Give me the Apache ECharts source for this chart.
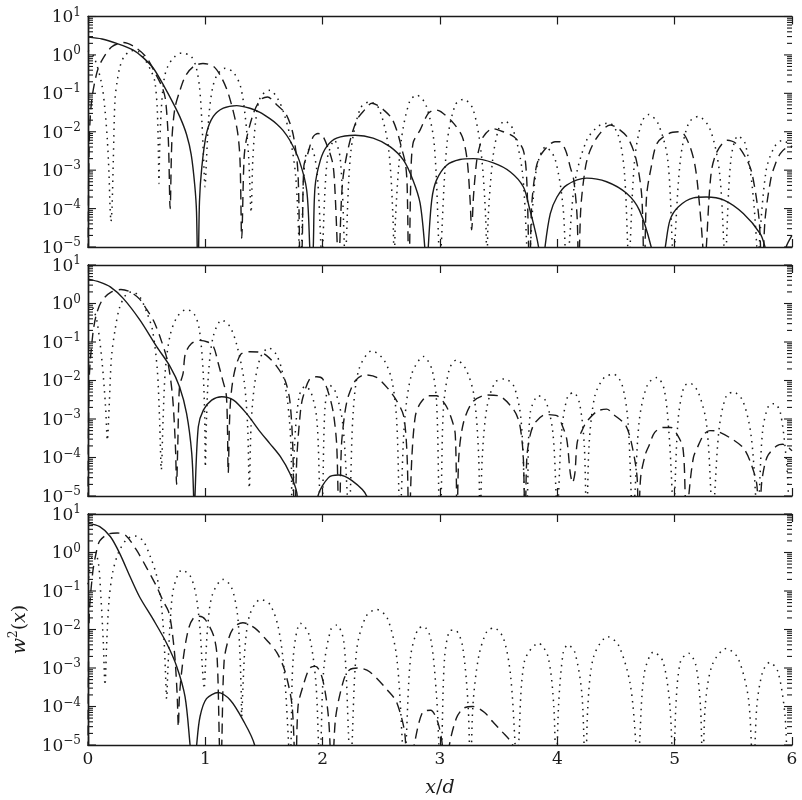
<!DOCTYPE html>
<html>
<head>
<meta charset="utf-8">
<script src="https://cdn.jsdelivr.net/npm/echarts@6/dist/echarts.min.js"></script>
<style>
  html, body { margin: 0; padding: 0; background: #fff; }
  #chart { width: 802px; height: 800px; }
</style>
</head>
<body>
<div id="chart"></div>
<script>
// Axis ranges and tick positions
const xMin = 0, xMax = 6;
const xTickStep = 1;
const yMin = 1e-5, yMax = 10;

// ---- Panel 1 ----
const p1Solid = [
  [0, 2.9], [0.12, 2.6], [0.244, 2.0], [0.386, 1.34], [0.47, 0.85], [0.557, 0.45], [0.65, 0.15], [0.72, 0.06],
  [0.784, 0.024], [0.84, 0.0085], [0.88, 0.0025], [0.91, 4e-4], [0.925, 8e-5], [0.937, 1e-6],
  [0.95, 1.5e-4], [0.97, 0.0012], [1.01, 0.0091], [1.068, 0.025], [1.153, 0.041], [1.267, 0.048],
  [1.38, 0.041], [1.466, 0.032], [1.55, 0.022], [1.608, 0.016], [1.66, 0.011], [1.72, 0.006], [1.80, 0.0018],
  [1.864, 3e-4], [1.89, 1e-5], [1.905, 1e-6],
  [1.92, 1e-5], [1.935, 3.7e-4], [1.98, 0.0018], [2.034, 0.0041], [2.119, 0.0068], [2.276, 0.0081],
  [2.43, 0.0068], [2.574, 0.0041], [2.69, 0.0018], [2.77, 5.5e-4], [2.83, 1.4e-4], [2.87, 1e-5], [2.885, 1e-6],
  [2.90, 1e-5], [2.93, 1.7e-4], [2.97, 5.5e-4], [3.057, 0.00135], [3.17, 0.0019], [3.284, 0.002],
  [3.455, 0.00155], [3.6, 9e-4], [3.71, 3.7e-4], [3.76, 1.1e-4], [3.84, 1e-5], [3.865, 1e-6],
  [3.895, 1e-5], [3.94, 7.4e-5], [3.997, 2.0e-4], [4.08, 4.1e-4], [4.25, 6.2e-4], [4.42, 5e-4],
  [4.59, 2.5e-4], [4.70, 9e-5], [4.80, 1e-5], [4.86, 1e-6],
  [4.92, 1e-5], [4.96, 5e-5], [5.03, 1.1e-4], [5.16, 1.9e-4], [5.27, 2.0e-4], [5.42, 1.65e-4],
  [5.585, 7.4e-5], [5.73, 2.2e-5], [5.77, 1e-5], [5.86, 1e-6], [5.95, 1e-5], [6.0, 2e-5]
];
const p1Dashed = [
  [0, 1e-6], [0.01, 0.005], [0.03, 0.06], [0.074, 0.33], [0.116, 0.7], [0.2, 1.6], [0.3, 2.1],
  [0.4, 1.6], [0.5, 0.85], [0.57, 0.35], [0.63, 0.15], [0.66, 0.07], [0.685, 0.006], [0.70, 1e-4],
  [0.715, 0.006], [0.74, 0.04], [0.78, 0.11], [0.83, 0.28], [0.9, 0.5], [0.98, 0.6], [1.07, 0.5],
  [1.14, 0.25], [1.2, 0.09], [1.27, 0.012], [1.295, 0.002], [1.31, 1.7e-5], [1.33, 0.002],
  [1.35, 0.0063], [1.41, 0.03], [1.47, 0.068], [1.53, 0.08], [1.61, 0.05], [1.69, 0.028],
  [1.75, 0.008], [1.79, 8e-4], [1.81, 1e-6],
  [1.825, 1e-5], [1.84, 0.0013], [1.87, 0.0025], [1.92, 0.0075], [1.96, 0.009], [2.0, 0.008],
  [2.08, 0.0018], [2.10, 5.5e-4], [2.125, 1e-5], [2.135, 1e-6],
  [2.145, 1e-5], [2.17, 5e-4], [2.22, 0.004], [2.29, 0.02], [2.35, 0.035], [2.42, 0.055], [2.46, 0.05],
  [2.52, 0.037], [2.59, 0.022], [2.64, 0.009], [2.67, 0.004], [2.705, 0.0015], [2.72, 4e-4], [2.735, 1e-6],
  [2.75, 4e-4], [2.77, 0.005], [2.83, 0.011], [2.90, 0.03], [2.96, 0.037], [3.01, 0.033], [3.12, 0.016],
  [3.19, 0.0074], [3.23, 0.002], [3.255, 2e-4], [3.27, 2.8e-5], [3.285, 2e-4], [3.31, 0.0015],
  [3.33, 0.0033], [3.37, 0.0075], [3.45, 0.012], [3.5, 0.011], [3.63, 0.0074], [3.71, 0.0033],
  [3.74, 5e-4], [3.765, 1e-6],
  [3.78, 1e-4], [3.82, 0.0012], [3.87, 0.0028], [3.98, 0.0055], [4.02, 0.0055], [4.07, 0.0033],
  [4.11, 0.0012], [4.14, 5.5e-4], [4.17, 5e-5], [4.18, 1e-6],
  [4.2, 1e-4], [4.24, 0.0012], [4.28, 0.0033], [4.35, 0.008], [4.45, 0.015], [4.52, 0.012], [4.6, 0.007],
  [4.67, 0.002], [4.72, 2e-4], [4.74, 1e-6],
  [4.76, 2e-4], [4.8, 0.0012], [4.85, 0.005], [4.95, 0.009], [5.05, 0.01], [5.12, 0.005], [5.17, 0.0015],
  [5.2, 3e-4], [5.24, 1e-5], [5.25, 1e-6],
  [5.27, 1e-5], [5.31, 8e-4], [5.36, 0.003], [5.45, 0.006], [5.52, 0.005], [5.61, 0.002], [5.66, 8e-4],
  [5.72, 5e-5], [5.745, 1e-6],
  [5.77, 5e-5], [5.82, 6e-4], [5.86, 0.0015], [5.9, 0.0027], [5.95, 0.0038], [6.0, 0.004]
];
const p1Dotted = [
  [0, 1.3], [0.05, 0.9], [0.116, 0.18], [0.145, 0.036], [0.165, 0.006], [0.179, 8e-4], [0.188, 1.1e-4],
  [0.196, 4.6e-5], [0.205, 1.1e-4], [0.216, 0.002], [0.23, 0.068], [0.25, 0.22], [0.273, 0.5],
  [0.307, 0.9], [0.36, 1.25], [0.41, 1.3], [0.47, 0.9], [0.54, 0.37], [0.57, 0.2], [0.59, 0.04],
  [0.6, 0.003], [0.605, 4.5e-4], [0.61, 0.003], [0.625, 0.04], [0.65, 0.25], [0.68, 0.5], [0.73, 0.85],
  [0.8, 1.13], [0.88, 0.9], [0.92, 0.5], [0.95, 0.15], [0.97, 0.02], [0.985, 0.002], [0.997, 3.7e-4],
  [1.01, 0.002], [1.03, 0.025], [1.06, 0.13], [1.1, 0.3], [1.17, 0.45], [1.24, 0.35], [1.3, 0.15],
  [1.34, 0.025], [1.37, 0.002], [1.39, 8e-5], [1.405, 0.002], [1.43, 0.02], [1.47, 0.08], [1.55, 0.12],
  [1.62, 0.07], [1.67, 0.03], [1.72, 0.008], [1.77, 7e-4], [1.8, 1e-5], [1.81, 1e-6],
  [1.82, 1e-5], [1.85, 0.002], [1.9, 0.004], [1.95, 0.001], [1.985, 1e-5], [1.99, 1e-6],
  [2.0, 1e-5], [2.04, 0.002], [2.1, 0.006], [2.15, 0.002], [2.185, 1e-5], [2.19, 1e-6],
  [2.2, 1e-5], [2.24, 0.003], [2.32, 0.04], [2.4, 0.06], [2.48, 0.04], [2.56, 0.004], [2.6, 5e-5], [2.61, 1e-6],
  [2.62, 5e-5], [2.67, 0.006], [2.74, 0.06], [2.8, 0.09], [2.88, 0.05], [2.95, 0.005], [2.99, 1e-5], [3.0, 1e-6],
  [3.01, 1e-5], [3.06, 0.005], [3.13, 0.05], [3.2, 0.07], [3.28, 0.04], [3.35, 0.003], [3.39, 5e-5], [3.4, 1e-6],
  [3.41, 5e-5], [3.45, 0.002], [3.5, 0.012], [3.55, 0.019], [3.62, 0.012], [3.7, 0.001], [3.74, 1e-5], [3.75, 1e-6],
  [3.77, 1e-5], [3.82, 0.001], [3.9, 0.004], [3.98, 0.002], [4.05, 1e-4], [4.08, 1e-6],
  [4.1, 1e-5], [4.15, 5e-4], [4.25, 0.006], [4.35, 0.014], [4.44, 0.017], [4.52, 0.008], [4.57, 0.001],
  [4.6, 1e-5], [4.61, 1e-6],
  [4.62, 1e-5], [4.66, 0.002], [4.72, 0.018], [4.78, 0.028], [4.86, 0.016], [4.94, 0.002], [4.98, 1e-5], [4.99, 1e-6],
  [5.0, 1e-5], [5.05, 0.002], [5.12, 0.017], [5.2, 0.025], [5.3, 0.012], [5.38, 0.001], [5.42, 1e-5], [5.43, 1e-6],
  [5.44, 1e-5], [5.48, 0.002], [5.54, 0.0078], [5.6, 0.005], [5.66, 4e-4], [5.7, 1e-5], [5.71, 1e-6],
  [5.72, 1e-5], [5.78, 0.001], [5.85, 0.004], [5.92, 0.006], [6.0, 0.004]
];

// ---- Panel 2 ----
const p2Solid = [
  [0, 4.3], [0.1, 3.6], [0.19, 2.7], [0.30, 1.36], [0.443, 0.37], [0.585, 0.076], [0.70, 0.023],
  [0.78, 0.0069], [0.84, 0.0014], [0.884, 1.3e-4], [0.9, 1e-5], [0.905, 1e-6],
  [0.912, 1e-5], [0.94, 6.3e-4], [0.983, 0.0017], [1.054, 0.0031], [1.14, 0.0038], [1.24, 0.0031],
  [1.35, 0.0014], [1.466, 4.7e-4], [1.55, 2.3e-4], [1.64, 1.05e-4], [1.72, 3.9e-5], [1.78, 1.2e-5], [1.80, 1e-6],
  [1.94, 1e-6], [1.96, 1e-5], [2.05, 3e-5], [2.134, 3.5e-5], [2.25, 2.5e-5], [2.375, 1e-5], [2.42, 1e-6]
];
const p2Dashed = [
  [0, 1e-6], [0.01, 0.01], [0.04, 0.15], [0.07, 0.5], [0.12, 1.2], [0.2, 2.0], [0.28, 2.3], [0.36, 2.0],
  [0.44, 1.3], [0.5, 0.7], [0.56, 0.35], [0.62, 0.12], [0.68, 0.03], [0.72, 0.004], [0.745, 2e-4],
  [0.755, 2e-5], [0.765, 2e-4], [0.78, 0.007], [0.81, 0.015], [0.83, 0.05], [0.88, 0.09], [0.95, 0.11],
  [1.02, 0.1], [1.07, 0.075], [1.11, 0.028], [1.14, 0.0126], [1.18, 0.0038], [1.195, 4e-5], [1.21, 0.0017],
  [1.24, 0.0126], [1.3, 0.047], [1.38, 0.056], [1.45, 0.055], [1.52, 0.045], [1.61, 0.023], [1.68, 0.01],
  [1.72, 0.003], [1.745, 2e-4], [1.76, 1e-6],
  [1.78, 1e-4], [1.81, 0.0015], [1.83, 0.0035], [1.89, 0.011], [1.95, 0.0125], [2.0, 0.011], [2.05, 0.0047],
  [2.09, 0.0015], [2.12, 2e-4], [2.14, 1e-6],
  [2.16, 2e-4], [2.19, 0.0015], [2.22, 0.004], [2.28, 0.01], [2.36, 0.014], [2.46, 0.012], [2.56, 0.006],
  [2.63, 0.003], [2.69, 0.0012], [2.72, 1e-4], [2.735, 1e-6],
  [2.76, 1e-4], [2.79, 0.0012], [2.83, 0.0025], [2.9, 0.004], [2.97, 0.004], [3.04, 0.0025], [3.09, 0.0012],
  [3.13, 4e-4], [3.145, 1e-6],
  [3.16, 1e-4], [3.2, 8e-4], [3.28, 0.0028], [3.4, 0.0042], [3.5, 0.004], [3.63, 0.0017], [3.68, 7e-4],
  [3.71, 1e-4], [3.725, 1e-6],
  [3.74, 1e-4], [3.77, 4e-4], [3.81, 8e-4], [3.9, 0.0013], [4.0, 0.0012], [4.04, 7e-4], [4.08, 3e-4],
  [4.11, 4e-5], [4.13, 2.2e-5], [4.15, 4e-5], [4.17, 2.5e-4], [4.21, 5e-4], [4.25, 8.5e-4], [4.34, 0.0016],
  [4.42, 0.0018], [4.48, 0.0013], [4.58, 7e-4], [4.63, 2.5e-4], [4.68, 3e-5], [4.69, 1e-6],
  [4.71, 3e-5], [4.75, 1.2e-4], [4.78, 2e-4], [4.83, 4.5e-4], [4.9, 6e-4], [4.97, 6e-4], [5.02, 4e-4],
  [5.07, 1.8e-4], [5.09, 1e-5], [5.1, 1e-6],
  [5.12, 1e-5], [5.16, 1e-4], [5.2, 2e-4], [5.25, 4e-4], [5.3, 5e-4], [5.36, 4.8e-4], [5.49, 3e-4],
  [5.59, 1.7e-4], [5.65, 7e-5], [5.7, 2e-5], [5.72, 1e-6],
  [5.74, 2e-5], [5.77, 7e-5], [5.8, 1.2e-4], [5.87, 2e-4], [5.92, 2.2e-4], [5.97, 1.8e-4], [6.0, 1.5e-4]
];
const p2Dotted = [
  [0, 1.0], [0.04, 0.8], [0.08, 0.3], [0.12, 0.03], [0.15, 0.002], [0.165, 2.8e-4], [0.18, 0.002],
  [0.2, 0.04], [0.23, 0.2], [0.27, 0.8], [0.33, 1.8], [0.38, 2.0], [0.44, 1.5], [0.5, 0.6], [0.55, 0.2],
  [0.59, 0.02], [0.61, 0.001], [0.625, 4.8e-5], [0.64, 0.001], [0.66, 0.02], [0.7, 0.15], [0.76, 0.45],
  [0.84, 0.7], [0.91, 0.5], [0.95, 0.2], [0.98, 0.02], [0.995, 0.001], [1.0, 5.7e-5], [1.01, 0.001],
  [1.03, 0.02], [1.07, 0.15], [1.14, 0.37], [1.21, 0.25], [1.27, 0.08], [1.33, 0.01], [1.36, 7e-4],
  [1.375, 1.6e-5], [1.39, 7e-4], [1.42, 0.008], [1.47, 0.04], [1.54, 0.07], [1.6, 0.05], [1.65, 0.02],
  [1.7, 0.003], [1.73, 2e-4], [1.74, 1e-6],
  [1.76, 2e-4], [1.8, 0.004], [1.85, 0.007], [1.9, 0.005], [1.95, 0.001], [1.975, 1e-5], [1.985, 1e-6],
  [2.0, 1e-5], [2.02, 0.002], [2.06, 0.0076], [2.11, 0.005], [2.17, 8e-4], [2.21, 1e-5], [2.22, 1e-6],
  [2.235, 1e-5], [2.26, 0.0015], [2.31, 0.02], [2.42, 0.059], [2.52, 0.035], [2.59, 0.01], [2.63, 0.001],
  [2.65, 1e-5], [2.655, 1e-6],
  [2.67, 1e-5], [2.7, 0.001], [2.76, 0.015], [2.86, 0.042], [2.93, 0.02], [2.97, 0.003], [2.99, 1e-5], [2.995, 1e-6],
  [3.01, 1e-5], [3.03, 0.002], [3.08, 0.02], [3.14, 0.034], [3.22, 0.02], [3.29, 0.004], [3.33, 1e-4], [3.34, 1e-6],
  [3.36, 1e-4], [3.4, 0.002], [3.47, 0.009], [3.55, 0.011], [3.63, 0.007], [3.69, 0.001], [3.72, 1e-5], [3.73, 1e-6],
  [3.745, 1e-5], [3.77, 0.0015], [3.84, 0.004], [3.9, 0.003], [3.96, 5e-4], [3.99, 1e-5], [4.0, 1e-6],
  [4.01, 1e-5], [4.04, 6e-4], [4.09, 0.004], [4.14, 0.0048], [4.19, 0.0025], [4.23, 2e-4], [4.25, 1e-6],
  [4.27, 2e-4], [4.32, 0.004], [4.4, 0.012], [4.48, 0.0145], [4.55, 0.008], [4.6, 0.001], [4.63, 1e-5], [4.64, 1e-6],
  [4.66, 1e-5], [4.7, 0.001], [4.77, 0.008], [4.85, 0.012], [4.91, 0.006], [4.95, 5e-4], [4.98, 1e-5], [4.99, 1e-6],
  [5.0, 1e-5], [5.03, 0.001], [5.08, 0.007], [5.13, 0.0085], [5.2, 0.005], [5.27, 8e-4], [5.31, 1e-5], [5.32, 1e-6],
  [5.34, 1e-5], [5.38, 6e-4], [5.44, 0.004], [5.5, 0.005], [5.58, 0.003], [5.65, 4e-4], [5.69, 1e-5], [5.7, 1e-6],
  [5.72, 1e-5], [5.75, 5e-4], [5.8, 0.0022], [5.85, 0.0025], [5.9, 0.0015], [5.95, 1e-4], [5.97, 1e-5],
  [5.98, 1e-6], [6.0, 1e-5]
];

// ---- Panel 3 ----
const p3Solid = [
  [0, 5.7], [0.1, 4.7], [0.19, 2.6], [0.27, 0.95], [0.36, 0.23], [0.44, 0.07], [0.557, 0.018],
  [0.67, 0.0044], [0.756, 0.0011], [0.827, 1.8e-4], [0.87, 1e-5], [0.9, 1e-6],
  [0.926, 1e-5], [0.955, 5.5e-5], [1.01, 1.6e-4], [1.11, 2.3e-4], [1.21, 1.5e-4], [1.32, 4.5e-5],
  [1.42, 1e-5], [1.45, 1e-6]
];
const p3Dashed = [
  [0, 1e-6], [0.01, 0.02], [0.04, 0.3], [0.07, 1.0], [0.1, 2.0], [0.17, 3.0], [0.25, 3.2], [0.32, 2.8],
  [0.41, 1.2], [0.5, 0.4], [0.585, 0.13], [0.64, 0.055], [0.685, 0.03], [0.71, 0.013], [0.74, 0.002],
  [0.76, 2e-4], [0.77, 3e-5], [0.78, 2e-4], [0.81, 0.0016], [0.855, 0.01], [0.9, 0.02], [0.95, 0.022],
  [1.0, 0.018], [1.07, 0.007], [1.1, 0.002], [1.12, 1e-5], [1.13, 1e-6],
  [1.14, 1e-5], [1.16, 0.0015], [1.2, 0.006], [1.25, 0.012], [1.32, 0.015], [1.42, 0.011], [1.52, 0.0054],
  [1.61, 0.0025], [1.68, 8e-4], [1.74, 1e-4], [1.77, 1e-6],
  [1.79, 1e-4], [1.84, 4e-4], [1.89, 0.001], [1.94, 0.0011], [2.0, 5e-4], [2.05, 5e-5], [2.08, 1e-6],
  [2.11, 5e-5], [2.18, 5e-4], [2.23, 9e-4], [2.3, 0.001], [2.4, 8e-4], [2.56, 2.5e-4], [2.63, 1.3e-4],
  [2.7, 2e-5], [2.72, 1e-6],
  [2.78, 1e-5], [2.85, 7e-5], [2.92, 8e-5], [2.98, 4e-5], [3.02, 1e-5], [3.04, 1e-6],
  [3.08, 1e-5], [3.14, 5e-5], [3.2, 9e-5], [3.28, 1e-4], [3.38, 7e-5], [3.45, 4e-5], [3.53, 2.2e-5],
  [3.62, 1e-5], [3.7, 1e-6]
];
const p3Dotted = [
  [0, 0.15], [0.03, 0.7], [0.06, 1.0], [0.09, 0.5], [0.11, 0.07], [0.13, 0.005], [0.145, 3.6e-4],
  [0.16, 0.005], [0.18, 0.06], [0.21, 0.3], [0.26, 1.0], [0.33, 2.2], [0.4, 2.7], [0.47, 2.0], [0.53, 0.8],
  [0.585, 0.25], [0.62, 0.06], [0.645, 0.008], [0.66, 8e-4], [0.67, 1.6e-4], [0.68, 8e-4], [0.7, 0.015],
  [0.73, 0.12], [0.8, 0.35], [0.87, 0.25], [0.92, 0.08], [0.955, 0.01], [0.975, 0.001], [0.99, 2.9e-4],
  [1.0, 0.001], [1.02, 0.012], [1.06, 0.08], [1.15, 0.2], [1.22, 0.13], [1.27, 0.03], [1.29, 0.005],
  [1.305, 3e-4], [1.31, 5.5e-5], [1.32, 3e-4], [1.34, 0.004], [1.38, 0.025], [1.47, 0.06], [1.55, 0.045],
  [1.62, 0.012], [1.67, 0.001], [1.71, 1e-5], [1.72, 1e-6],
  [1.73, 1e-5], [1.75, 0.002], [1.81, 0.0145], [1.88, 0.008], [1.94, 5e-4], [1.965, 1e-5], [1.975, 1e-6],
  [1.985, 1e-5], [2.01, 0.001], [2.07, 0.01], [2.12, 0.013], [2.18, 0.005], [2.22, 2e-5], [2.235, 1e-6],
  [2.25, 1e-5], [2.29, 0.003], [2.37, 0.022], [2.46, 0.033], [2.55, 0.02], [2.63, 0.002], [2.68, 1e-5], [2.69, 1e-6],
  [2.71, 1e-5], [2.75, 0.002], [2.81, 0.01], [2.86, 0.012], [2.92, 0.006], [2.97, 2e-4], [2.99, 1e-5], [3.0, 1e-6],
  [3.015, 1e-5], [3.04, 0.002], [3.09, 0.0095], [3.13, 0.0095], [3.19, 0.004], [3.24, 1e-4], [3.26, 1e-6],
  [3.28, 1e-4], [3.33, 0.002], [3.4, 0.009], [3.46, 0.011], [3.54, 0.006], [3.6, 7e-4], [3.64, 1e-5], [3.65, 1e-6],
  [3.67, 1e-5], [3.72, 0.0015], [3.84, 0.0044], [3.92, 0.002], [3.97, 1e-4], [3.99, 1e-6],
  [4.01, 1e-4], [4.05, 0.0025], [4.09, 0.004], [4.15, 0.0025], [4.21, 2e-4], [4.24, 1e-6],
  [4.26, 1e-4], [4.31, 0.002], [4.43, 0.0065], [4.52, 0.004], [4.62, 4e-4], [4.67, 1e-5], [4.68, 1e-6],
  [4.7, 1e-5], [4.74, 7e-4], [4.82, 0.0026], [4.9, 0.0015], [4.96, 1e-4], [4.99, 1e-6],
  [5.01, 1e-4], [5.05, 0.0015], [5.12, 0.0024], [5.18, 0.0012], [5.22, 1e-4], [5.24, 1e-6],
  [5.26, 1e-4], [5.32, 0.0012], [5.44, 0.0032], [5.54, 0.0018], [5.63, 1.5e-4], [5.67, 1e-6],
  [5.7, 1e-4], [5.75, 8e-4], [5.81, 0.0014], [5.88, 8e-4], [5.94, 6e-5], [5.97, 1e-6], [6.0, 1e-5]
];

const panels = [
  { solid: p1Solid, dashed: p1Dashed, dotted: p1Dotted },
  { solid: p2Solid, dashed: p2Dashed, dotted: p2Dotted },
  { solid: p3Solid, dashed: p3Dashed, dotted: p3Dotted }
];

// Layout of the three stacked plot frames (pixels)
const frameLeft = 88, frameWidth = 704;
const frameTops = [16.5, 265, 514];
const frameHeights = [230.5, 231, 231];

const ink = '#1a1a1a';
const font = 'DejaVu Serif';

// log ticks: decades get long marks, 2..9 x 10^k get short ones
const majorTickValues = [];
const minorTickValues = [];
for (let k = -5; k <= 1; k++) {
  majorTickValues.push([0, Math.pow(10, k)]);
  if (k < 1) for (let m = 2; m <= 9; m++) minorTickValues.push([0, m * Math.pow(10, k)]);
}

function powerLabel(v) {
  const e = Math.round(Math.log10(v));
  return '{b|10}{s|' + (e < 0 ? '\u2212' + (-e) : e) + '}';
}
const labelRich = {
  b: { fontFamily: font, fontSize: 17, color: ink, lineHeight: 20, padding: [4, 0, 0, 0], verticalAlign: 'bottom' },
  s: { fontFamily: font, fontSize: 12, color: ink, lineHeight: 13, verticalAlign: 'top' }
};

function tickSeries(i, values, len) {
  return {
    type: 'custom', xAxisIndex: 2 * i, yAxisIndex: 2 * i, silent: true, animation: false, clip: false,
    data: values, z: 5,
    renderItem: (params, api) => {
      const v = api.value(1);
      const l = api.coord([xMin, v]);
      const r = api.coord([xMax, v]);
      return {
        type: 'group', children: [
          { type: 'line', shape: { x1: l[0], y1: l[1], x2: l[0] + len, y2: l[1] }, style: { stroke: ink, lineWidth: 1.1 } },
          { type: 'line', shape: { x1: r[0] - len, y1: r[1], x2: r[0], y2: r[1] }, style: { stroke: ink, lineWidth: 1.1 } }
        ]
      };
    }
  };
}

const grid = [], xAxis = [], yAxis = [], series = [];
panels.forEach((p, i) => {
  grid.push({ left: frameLeft, width: frameWidth, top: frameTops[i], height: frameHeights[i] });
  const last = i === panels.length - 1;
  const axisLine = { show: true, lineStyle: { color: ink, width: 1.4 } };
  const xTick = { show: true, inside: true, length: 8, lineStyle: { color: ink, width: 1.2 } };
  // bottom x axis
  xAxis.push({
    type: 'value', gridIndex: i, min: xMin, max: xMax, interval: xTickStep, position: 'bottom',
    axisLine, splitLine: { show: false }, axisTick: xTick,
    axisLabel: { show: last, color: ink, fontFamily: font, fontSize: 17, margin: 6 },
    name: last ? '{i|x}{n|/}{i|d}' : '', nameLocation: 'middle', nameGap: 34,
    nameTextStyle: { color: ink, fontFamily: font, fontSize: 19,
      rich: { i: { fontFamily: font, fontStyle: 'italic', fontSize: 19, color: ink },
              n: { fontFamily: font, fontSize: 19, color: ink } } }
  });
  // top x axis (ticks only)
  xAxis.push({
    type: 'value', gridIndex: i, min: xMin, max: xMax, interval: xTickStep, position: 'top',
    axisLine, splitLine: { show: false }, axisTick: xTick, axisLabel: { show: false }
  });
  // left y axis
  yAxis.push({
    type: 'log', logBase: 10, gridIndex: i, min: yMin, max: yMax, position: 'left',
    axisLine, splitLine: { show: false }, axisTick: { show: false },
    axisLabel: { margin: 7, formatter: powerLabel, rich: labelRich },
    name: last ? '{i|w}{s|2}{n|(}{i|x}{n|)}' : '', nameLocation: 'middle', nameGap: 58, nameRotate: 90,
    nameTextStyle: { color: ink, fontFamily: font, fontSize: 19,
      rich: { i: { fontFamily: font, fontStyle: 'italic', fontSize: 19, color: ink, lineHeight: 22, padding: [3, 0, 0, 0], verticalAlign: 'bottom' },
              n: { fontFamily: font, fontSize: 19, color: ink, lineHeight: 22, padding: [3, 0, 0, 0], verticalAlign: 'bottom' },
              s: { fontFamily: font, fontSize: 12, color: ink, lineHeight: 13, verticalAlign: 'top' } } }
  });
  // right y axis (frame side only)
  yAxis.push({
    type: 'log', logBase: 10, gridIndex: i, min: yMin, max: yMax, position: 'right',
    axisLine, splitLine: { show: false }, axisTick: { show: false }, axisLabel: { show: false }
  });

  const base = { type: 'line', xAxisIndex: 2 * i, yAxisIndex: 2 * i, showSymbol: false, symbol: 'none',
                 smooth: 0.3, clip: true, silent: true, animation: false };
  series.push(Object.assign({}, base, { name: 'solid' + i, data: p.solid,
    lineStyle: { color: ink, width: 1.4, type: 'solid' } }));
  series.push(Object.assign({}, base, { name: 'dashed' + i, data: p.dashed,
    lineStyle: { color: ink, width: 1.4, type: [10, 6] } }));
  series.push(Object.assign({}, base, { name: 'dotted' + i, data: p.dotted,
    lineStyle: { color: ink, width: 1.5, type: [1.5, 5] } }));

  series.push(tickSeries(i, majorTickValues, 8));
  series.push(tickSeries(i, minorTickValues, 5));
});

const chart = echarts.init(document.getElementById('chart'), null, { renderer: 'canvas' });
chart.setOption({ animation: false, backgroundColor: '#fff', grid, xAxis, yAxis, series });
</script>
</body>
</html>
